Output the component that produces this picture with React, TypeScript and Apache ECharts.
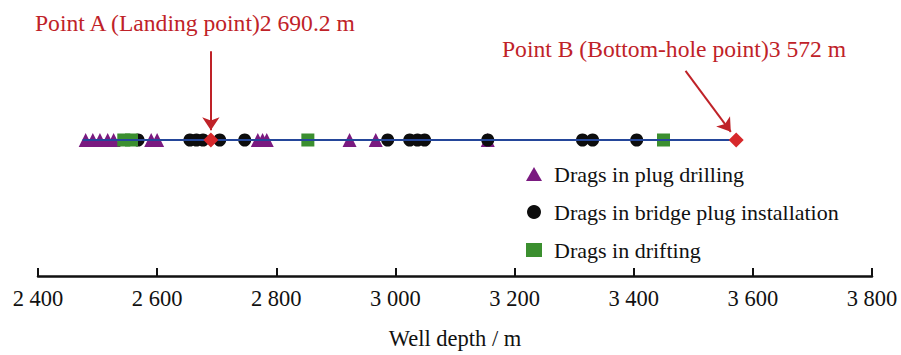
import React, { useEffect, useRef } from "react";
import * as echarts from "echarts";

const plugDrilling = [2480, 2492, 2504, 2517, 2527, 2590, 2600, 2769, 2777, 2784, 2923, 2967, 3155];
const bridgePlug = [2568, 2655, 2666, 2677, 2705, 2747, 2987, 3024, 3037, 3049, 3155, 3314, 3331, 3405];
const drifting = [2544, 2557, 2853, 3450];
const pointA = 2690.2;
const pointB = 3572;
const wellStart = 2475;
const xTicks = [2400, 2600, 2800, 3000, 3200, 3400, 3600, 3800];
const legendNames = ["Drags in plug drilling", "Drags in bridge plug installation", "Drags in drifting"];
const annotA = "Point A (Landing point)2 690.2 m";
const annotB = "Point B (Bottom-hole point)3 572 m";

const RED = "#bf2228";
const SERIF = "'Liberation Serif', 'Times New Roman', serif";
const LINE_Y = 0.5;

const fmt = (v: number) => {
  const s = String(Math.round(v));
  return s.length > 3 ? s.slice(0, s.length - 3) + " " + s.slice(-3) : s;
};

export default function App() {
  const ref = useRef<HTMLDivElement>(null);
  useEffect(() => {
    if (!ref.current) return;
    const chart = echarts.init(ref.current, undefined, { renderer: "svg" });
    chart.setOption({
      animation: false,
      grid: { left: 38, right: 29, top: 4, bottom: 75 },
      legend: {
        data: legendNames,
        orient: "vertical",
        left: 521,
        top: 158,
        itemGap: 16,
        itemWidth: 16,
        itemHeight: 14,
        textStyle: { fontFamily: SERIF, fontSize: 22, color: "#111", padding: [0, 0, 0, 7] },
      },
      xAxis: {
        type: "value",
        min: xTicks[0],
        max: xTicks[xTicks.length - 1],
        interval: 200,
        splitLine: { show: false },
        axisLine: { lineStyle: { color: "#111", width: 2.5 } },
        axisTick: { inside: true, length: 8, lineStyle: { color: "#111", width: 2 } },
        axisLabel: {
          formatter: fmt,
          fontFamily: SERIF,
          fontSize: 22.5,
          color: "#111",
          margin: 11,
          showMinLabel: true,
          showMaxLabel: true,
        },
        name: "Well depth / m",
        nameLocation: "middle",
        nameGap: 51,
        nameTextStyle: { fontFamily: SERIF, fontSize: 22.5, color: "#111" },
      },
      yAxis: { type: "value", min: 0, max: 1, show: false },
      series: [
        {
          name: legendNames[0],
          type: "scatter",
          symbol: "triangle",
          symbolSize: 14,
          itemStyle: { color: "#7a1a80", opacity: 1 },
          z: 2,
          data: plugDrilling.map((d) => [d, LINE_Y]),
        },
        {
          name: legendNames[1],
          type: "scatter",
          symbol: "circle",
          symbolSize: 13,
          itemStyle: { color: "#0d0d0d", opacity: 1 },
          z: 3,
          data: bridgePlug.map((d) => [d, LINE_Y]),
        },
        {
          name: legendNames[2],
          type: "scatter",
          symbol: "rect",
          symbolSize: 13,
          itemStyle: { color: "#3b8f2f", opacity: 1 },
          z: 4,
          data: drifting.map((d) => [d, LINE_Y]),
        },
        {
          name: "well",
          type: "line",
          symbol: "none",
          z: 5,
          lineStyle: { color: "#24469a", width: 2 },
          data: [
            [wellStart, LINE_Y],
            [pointB, LINE_Y],
          ],
          markLine: {
            silent: true,
            symbol: ["none", "arrow"],
            symbolSize: 13,
            label: { show: false },
            lineStyle: { color: RED, width: 2, type: "solid" },
            data: [
              [{ coord: [pointA, 0.826] }, { coord: [pointA, 0.536] }],
              [{ coord: [3487, 0.754] }, { coord: [3563, 0.53] }],
            ],
          },
        },
        {
          name: "points",
          type: "scatter",
          symbol: "diamond",
          symbolSize: 15,
          z: 6,
          itemStyle: { color: "#d7282b", opacity: 1 },
          data: [
            [pointA, LINE_Y],
            [pointB, LINE_Y],
          ],
        },
      ],
      graphic: [
        {
          type: "text",
          left: 35,
          top: 11,
          style: { text: annotA, fill: RED, fontFamily: SERIF, fontSize: 23.6 },
        },
        {
          type: "text",
          left: 502,
          top: 37,
          style: { text: annotB, fill: RED, fontFamily: SERIF, fontSize: 23.6 },
        },
      ],
    });
    return () => chart.dispose();
  }, []);
  return (
    <div
      ref={ref}
      style={{ position: "absolute", left: 0, top: 0, width: 901, height: 355 }}
    />
  );
}
